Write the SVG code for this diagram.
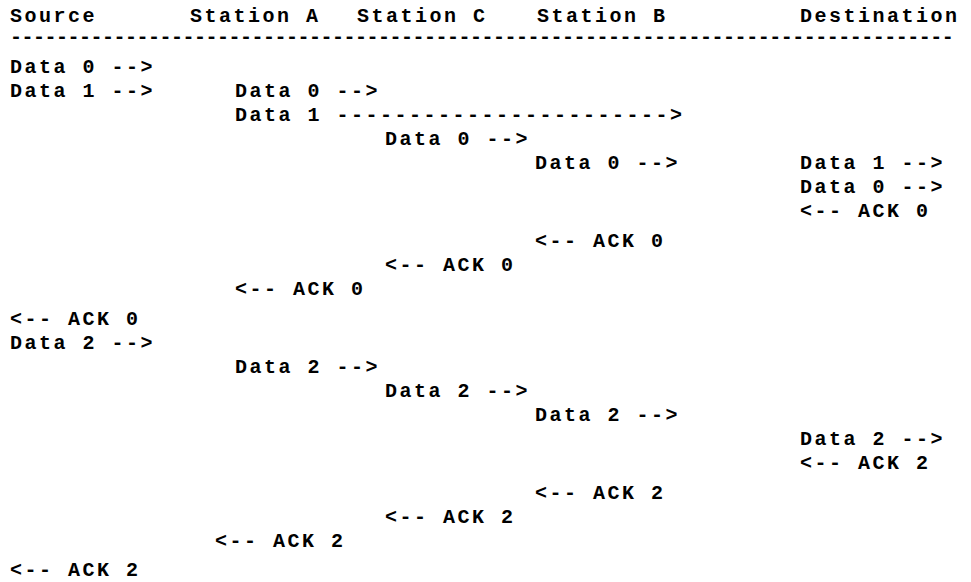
<svg xmlns="http://www.w3.org/2000/svg" width="971" height="582" viewBox="0 0 971 582">
<style>
text{font-family:"Liberation Mono","Courier New",monospace;font-weight:bold;font-size:20px;letter-spacing:2.5px;fill:#000;white-space:pre}
.sep{letter-spacing:-0.5px}
</style>
<rect width="971" height="582" fill="#fff"/>
<g id="header">
<text x="10" y="22">Source</text>
<text x="190" y="22">Station A</text>
<text x="357" y="22">Station C</text>
<text x="537" y="22">Station B</text>
<text x="800" y="22">Destination</text>
<text class="sep" x="10" y="43">----------------------------------------------------------------------------------</text>
</g>
<g id="connectors">
<g id="m1"><text x="10" y="73">Data 0 --&gt;</text></g>
<g id="m2"><text x="10" y="97">Data 1 --&gt;</text></g>
<g id="m3"><text x="235" y="97">Data 0 --&gt;</text></g>
<g id="m4"><text x="235" y="121">Data 1 -----------------------&gt;</text></g>
<g id="m5"><text x="385" y="145">Data 0 --&gt;</text></g>
<g id="m6"><text x="535" y="169">Data 0 --&gt;</text></g>
<g id="m7"><text x="800" y="169">Data 1 --&gt;</text></g>
<g id="m8"><text x="800" y="193">Data 0 --&gt;</text></g>
<g id="m9"><text x="800" y="217">&lt;-- ACK 0</text></g>
<g id="m10"><text x="535" y="247">&lt;-- ACK 0</text></g>
<g id="m11"><text x="385" y="271">&lt;-- ACK 0</text></g>
<g id="m12"><text x="235" y="295">&lt;-- ACK 0</text></g>
<g id="m13"><text x="10" y="325">&lt;-- ACK 0</text></g>
<g id="m14"><text x="10" y="349">Data 2 --&gt;</text></g>
<g id="m15"><text x="235" y="373">Data 2 --&gt;</text></g>
<g id="m16"><text x="385" y="397">Data 2 --&gt;</text></g>
<g id="m17"><text x="535" y="421">Data 2 --&gt;</text></g>
<g id="m18"><text x="800" y="445">Data 2 --&gt;</text></g>
<g id="m19"><text x="800" y="469">&lt;-- ACK 2</text></g>
<g id="m20"><text x="535" y="499">&lt;-- ACK 2</text></g>
<g id="m21"><text x="385" y="523">&lt;-- ACK 2</text></g>
<g id="m22"><text x="215" y="547">&lt;-- ACK 2</text></g>
<g id="m23"><text x="10" y="576">&lt;-- ACK 2</text></g>
</g>
</svg>
